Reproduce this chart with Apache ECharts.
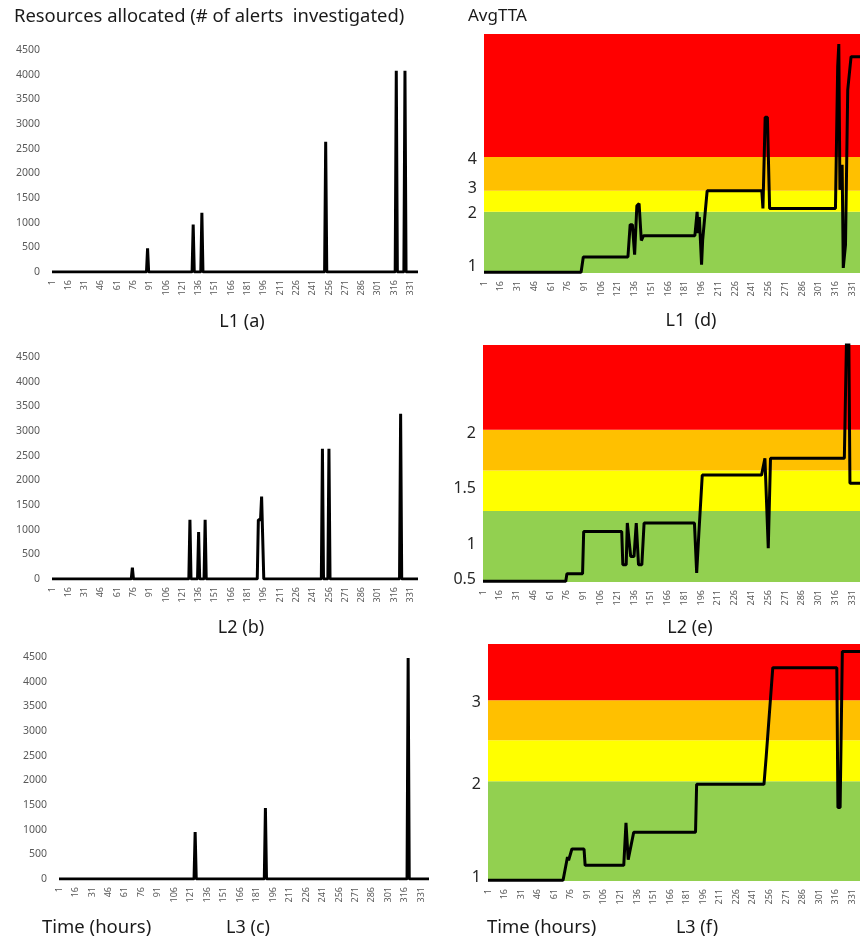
<!DOCTYPE html>
<html>
<head>
<meta charset="utf-8">
<script src="https://cdn.jsdelivr.net/npm/echarts@6/dist/echarts.min.js"></script>
<style>
  html, body { margin: 0; padding: 0; background: #fff; }
  #chart { width: 860px; height: 940px; }
</style>
</head>
<body>
<div id="chart"></div>
<script>
// hours on the x axis (1 .. 338)
const hours = Array.from({ length: 338 }, (_, i) => String(i + 1));

// resources allocated, [hour, alerts]
const resL1 = [[1, 0], [88, 0], [89, 480], [90, 0], [130, 0], [131, 960], [132, 0], [138, 0], [139, 1200], [140, 0],
  [252, 0], [253, 2640], [254, 0], [317, 0], [318, 4080], [319, 0], [325, 0], [326, 4080], [327, 0], [338, 0]];
const resL2 = [[1, 0], [74, 0], [75, 230], [76, 0], [127, 0], [128, 1200], [129, 0], [135, 0], [136, 950], [137, 0],
  [141, 0], [142, 1200], [143, 0], [190, 0], [191, 1200], [193, 1200], [194, 1670], [195, 1670], [196, 0],
  [249, 0], [250, 2640], [251, 0], [255, 0], [256, 2640], [257, 0], [321, 0], [322, 3350], [323, 0], [338, 0]];
const resL3 = [[1, 0], [124, 0], [125, 950], [126, 0], [188, 0], [189, 1440], [190, 0], [318, 0], [319, 4480], [320, 0], [338, 0]];

// AvgTTA, [hour, level] - level is height in the band chart (0 bottom .. 100 top)
const ttaL1 = [[1, 0.3], [88, 0.3], [90, 6.7], [130, 6.7], [132, 20.2], [134, 20.2], [136, 7.7], [138, 28.1], [140, 29],
  [142, 13.6], [144, 15.6], [190, 15.6], [192, 25.6], [193, 16.7], [194, 23.4], [196, 3.5], [197, 13.9], [201, 34.4],
  [250, 34.4], [251, 27], [253, 65.2], [255, 65.2], [257, 27], [316, 27], [318, 86.4], [319, 95.8], [320, 34.8],
  [322, 45.3], [323, 2.1], [325, 11.8], [327, 76.6], [330, 90.5], [338, 90.5]];
const ttaL2 = [[1, 0.3], [75, 0.3], [76, 3.5], [90, 3.5], [91, 21.3], [125, 21.3], [126, 7.3], [129, 7.3], [130, 24.9],
  [133, 10.8], [136, 10.8], [138, 24.9], [140, 7.3], [143, 7.3], [145, 24.9], [190, 24.9], [192, 3.8], [194, 20.9],
  [195, 21.3], [197, 45.1], [250, 45.1], [253, 52.2], [256, 14.3], [258, 52.2], [324, 52.2], [326, 104], [328, 104],
  [329, 41.7], [338, 41.7]];
const ttaL3 = [[1, 0.3], [69, 0.3], [73, 10.1], [74, 8.7], [77, 13.5], [88, 13.5], [89, 6.6], [124, 6.6], [126, 24.5],
  [128, 9], [133, 20.6], [189, 20.6], [190, 40.8], [251, 40.8], [253, 52.4], [259, 90], [317, 90], [318, 31], [320, 31],
  [322, 96.8], [338, 96.8]];

// band edges (green, yellow, orange, red) and the AvgTTA tick labels
const bandColors = ['#92D050', '#FFFF00', '#FFC000', '#FF0000'];
const bandsL1 = [0, 25.6, 34.4, 48.5, 100];
const bandsL2 = [0, 30.0, 47.0, 64.2, 100];
const bandsL3 = [0, 42.1, 59.4, 76.3, 100];
const ttaTickPosL1 = [2.8, 25.1, 35.4, 47.6];
const ttaTickTextL1 = ['1', '2', '3', '4'];
const ttaTickPosL2 = [1.0, 16.0, 39.6, 62.5];
const ttaTickTextL2 = ['0.5', '1', '1.5', '2'];
const ttaTickPosL3 = [1.7, 40.9, 75.2];
const ttaTickTextL3 = ['1', '2', '3'];

const panels = [
  { grid: { left: 52, top: 50, width: 366, height: 222 }, data: resL1 },
  { grid: { left: 52, top: 357, width: 366, height: 222 }, data: resL2 },
  { grid: { left: 59, top: 657, width: 370, height: 222 }, data: resL3 },
  { grid: { left: 484, top: 34, width: 377, height: 239 }, data: ttaL1, bands: bandsL1, tickPos: ttaTickPosL1, tickText: ttaTickTextL1 },
  { grid: { left: 483, top: 345, width: 380, height: 237 }, data: ttaL2, bands: bandsL2, tickPos: ttaTickPosL2, tickText: ttaTickTextL2 },
  { grid: { left: 488, top: 644, width: 378, height: 237 }, data: ttaL3, bands: bandsL3, tickPos: ttaTickPosL3, tickText: ttaTickTextL3 }
];

const FONT = '"Noto Sans", "Open Sans", sans-serif';
const grids = [], xAxes = [], yAxes = [], series = [];

panels.forEach((p, i) => {
  grids.push(p.grid);
  xAxes.push({
    type: 'category', gridIndex: i, data: hours, boundaryGap: false,
    axisLine: { show: false }, axisTick: { show: false },
    axisLabel: { interval: 14, rotate: 90, fontSize: 9, color: '#595959', margin: 8, fontFamily: FONT }
  });
  if (!p.bands) {
    yAxes.push({
      type: 'value', gridIndex: i, min: 0, max: 4500, interval: 500,
      axisLine: { show: false }, axisTick: { show: false }, splitLine: { show: false },
      axisLabel: { fontSize: 10.5, color: '#595959', margin: 12, fontFamily: FONT, formatter: (v) => String(v) }
    });
  } else {
    const pos = p.tickPos, txt = p.tickText;
    yAxes.push({
      type: 'value', gridIndex: i, min: 0, max: 100,
      axisLine: { show: false }, axisTick: { show: false }, splitLine: { show: false },
      axisLabel: {
        customValues: pos, fontSize: 16, color: '#262626', margin: 7, fontFamily: FONT,
        formatter: (v) => { const k = pos.indexOf(v); return k >= 0 ? txt[k] : ''; }
      }
    });
    // coloured bands behind the line
    series.push({
      type: 'line', xAxisIndex: i, yAxisIndex: i, data: [], z: 1, silent: true,
      markArea: {
        silent: true,
        data: bandColors.map((c, k) => [
          { yAxis: p.bands[k], itemStyle: { color: c, opacity: 1 } },
          { yAxis: p.bands[k + 1] }
        ])
      }
    });
  }
  series.push({
    type: 'line', xAxisIndex: i, yAxisIndex: i, z: 3,
    data: p.data.map(([h, v]) => [h - 1, v]),
    symbol: 'none', lineStyle: { color: '#000', width: 3, join: 'bevel' }
  });
});

const txt = (x, y, text, size, align) => ({
  type: 'text', x: x, y: y,
  style: { text: text, font: size + 'px ' + FONT, fill: '#1a1a1a', textAlign: align || 'left', textVerticalAlign: 'middle' }
});

const chart = echarts.init(document.getElementById('chart'));
chart.setOption({
  animation: false,
  grid: grids,
  xAxis: xAxes,
  yAxis: yAxes,
  series: series,
  graphic: [
    txt(14, 17, 'Resources allocated (# of alerts  investigated)', 18.4),
    txt(468, 16, 'AvgTTA', 17),
    txt(242, 322, 'L1 (a)', 18, 'center'),
    txt(691, 321, 'L1  (d)', 18, 'center'),
    txt(241, 628, 'L2 (b)', 18, 'center'),
    txt(690, 628, 'L2 (e)', 18, 'center'),
    txt(42, 928, 'Time (hours)', 18.5),
    txt(248, 928, 'L3 (c)', 18, 'center'),
    txt(487, 928, 'Time (hours)', 18.5),
    txt(697, 928, 'L3 (f)', 18, 'center')
  ]
});
</script>
</body>
</html>
